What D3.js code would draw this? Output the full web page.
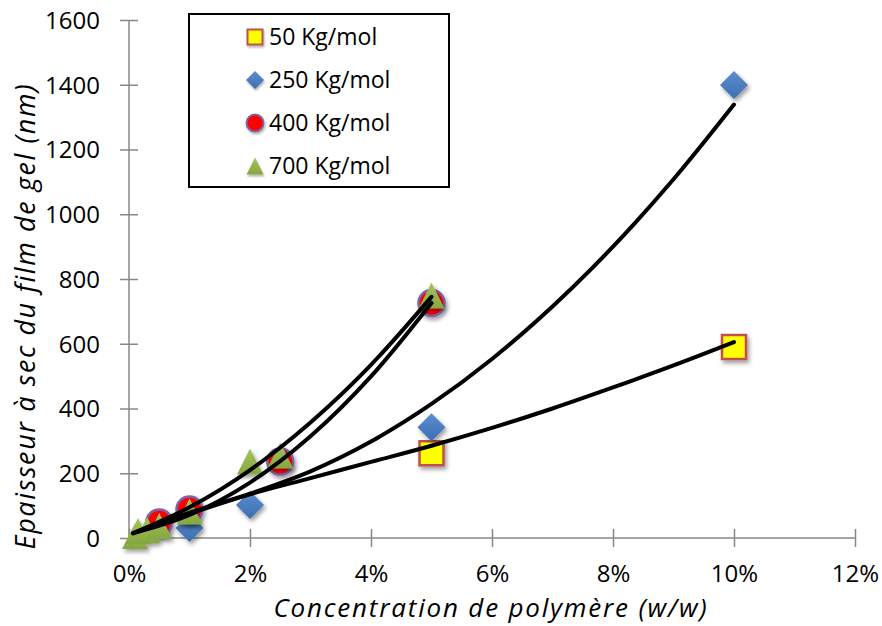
<!DOCTYPE html>
<html>
<head>
<meta charset="utf-8">
<script src="https://cdn.jsdelivr.net/npm/d3@7"></script>
<style>
  body { margin: 0; background: #fff; }
  svg { display: block; }
  text { font-family: "Open Sans", sans-serif; fill: #000; }
</style>
</head>
<body>
<svg id="chart" width="882" height="626"></svg>
<script>
// ---- Data: dry thickness of the gel film (nm) vs polymer concentration (% w/w)
const seriesNames = ["50 Kg/mol", "250 Kg/mol", "400 Kg/mol", "700 Kg/mol"];

const conc50 = [5, 10];
const thick50 = [262, 590];

const conc250 = [1, 2, 5, 10];
const thick250 = [31, 102, 342, 1399];

const conc400 = [0.5, 1, 2.5, 5];
const thick400 = [48, 88, 236, 726];

const conc700 = [0.1, 0.15, 0.3, 0.5, 1, 2, 2.5, 5];
const thick700 = [6, 22, 25, 37, 82, 236, 255, 749];

// Trend curves (polynomial trendlines), sampled along concentration
const trend50X = [0.07, 1, 2, 3, 4, 5, 6, 7, 8, 9, 10];
const trend50Y = [15, 75, 135, 185, 235, 285, 340, 400, 465, 533, 605];
const trend250X = [0.07, 1, 2, 3, 4, 5, 6, 7, 8, 9, 10];
const trend250Y = [15, 78, 137, 206, 298, 414, 553, 715, 900, 1108, 1339];
const trend400X = [0.07, 1, 2, 3, 4, 5];
const trend400Y = [15, 71, 171, 314, 499, 726];
const trend700X = [0.07, 1, 2, 3, 4, 5];
const trend700Y = [15, 95, 210, 357, 535, 745];

const xTickValues = [0, 2, 4, 6, 8, 10, 12];
const xTickLabels = ["0%", "2%", "4%", "6%", "8%", "10%", "12%"];
const yTickValues = [0, 200, 400, 600, 800, 1000, 1200, 1400, 1600];

const xTitle = "Concentration de polymère (w/w)";
const yTitle = "Epaisseur à sec du film de gel  (nm)";

// ---- Layout
const svg = d3.select("#chart");
const x = d3.scaleLinear().domain([0, 12]).range([129, 855]);
const y = d3.scaleLinear().domain([0, 1600]).range([538, 20]);
const axisColor = "#878787";

// ---- Defs: shadow and marker fills
const defs = svg.append("defs");
const shadow = defs.append("filter").attr("id", "shadow")
  .attr("x", "-50%").attr("y", "-50%").attr("width", "200%").attr("height", "200%");
shadow.append("feDropShadow").attr("dx", 2).attr("dy", 3).attr("stdDeviation", 2)
  .attr("flood-color", "#000").attr("flood-opacity", 0.38);
const shadowSmall = defs.append("filter").attr("id", "shadowSmall")
  .attr("x", "-50%").attr("y", "-50%").attr("width", "200%").attr("height", "200%");
shadowSmall.append("feDropShadow").attr("dx", 1).attr("dy", 2).attr("stdDeviation", 1.2)
  .attr("flood-color", "#000").attr("flood-opacity", 0.3);

function grad(id, top, bottom) {
  const g = defs.append("linearGradient").attr("id", id)
    .attr("x1", 0).attr("y1", 0).attr("x2", 0).attr("y2", 1);
  g.append("stop").attr("offset", "0%").attr("stop-color", top);
  g.append("stop").attr("offset", "100%").attr("stop-color", bottom);
}
grad("gBlue", "#5a8fd2", "#3d6db0");
grad("gGreen", "#a3c55e", "#86a63f");

// ---- Marker shapes (centred on 0,0)
const shapes = {
  square: s => `M${-s/2},${-s/2}H${s/2}V${s/2}H${-s/2}Z`,
  diamond: s => `M0,${-s/2}L${s/2},0L0,${s/2}L${-s/2},0Z`,
  triangle: s => `M0,${-s/2}L${s/2},${s/2}H${-s/2}Z`,
  circle: s => d3.arc()({innerRadius: 0, outerRadius: s/2, startAngle: 0, endAngle: 2 * Math.PI})
};

const styles = [
  {shape: "square",   fill: "#ffff00",      stroke: "#c0504d", sw: 2.5, size: 24},
  {shape: "diamond",  fill: "url(#gBlue)",  stroke: "none",    sw: 0,   size: 28},
  {shape: "circle",   fill: "#ff0000",      stroke: "#7f62a8", sw: 2.5, size: 26},
  {shape: "triangle", fill: "url(#gGreen)", stroke: "none",    sw: 0,   size: 26}
];

const series = [
  {xs: conc50, ys: thick50, tx: trend50X, ty: trend50Y},
  {xs: conc250, ys: thick250, tx: trend250X, ty: trend250Y},
  {xs: conc400, ys: thick400, tx: trend400X, ty: trend400Y},
  {xs: conc700, ys: thick700, tx: trend700X, ty: trend700Y}
];

// ---- Axes
const yAxis = svg.append("g").attr("transform", `translate(${x(0)},0)`)
  .call(d3.axisLeft(y).tickValues(yTickValues).tickSize(0).tickFormat(d3.format("d")));
yAxis.select(".domain").remove();
yAxis.append("line").attr("x1", 0).attr("x2", 0).attr("y1", y(0)).attr("y2", y(1600))
  .attr("stroke", axisColor).attr("stroke-width", 1.5);
yAxis.selectAll(".tick line").remove();
yAxis.selectAll(".tick").append("line")
  .attr("x1", -9).attr("x2", 9).attr("stroke", axisColor).attr("stroke-width", 1.5);
yAxis.selectAll(".tick text").attr("x", -29).attr("dy", "0.35em")
  .style("font-size", "24px").style("font-family", "'Open Sans', sans-serif").attr("fill", "#000");

const xAxis = svg.append("g").attr("transform", `translate(0,${y(0)})`)
  .call(d3.axisBottom(x).tickValues(xTickValues).tickSize(0)
    .tickFormat((d, i) => xTickLabels[i]));
xAxis.select(".domain").remove();
xAxis.append("line").attr("x1", x(0)).attr("x2", x(12)).attr("y1", 0).attr("y2", 0)
  .attr("stroke", axisColor).attr("stroke-width", 1.5);
xAxis.selectAll(".tick line").remove();
xAxis.selectAll(".tick").append("line")
  .attr("y1", -9).attr("y2", 9).attr("stroke", axisColor).attr("stroke-width", 1.5);
xAxis.selectAll(".tick text").attr("y", 36).attr("dy", "0.35em")
  .style("font-size", "24px").style("font-family", "'Open Sans', sans-serif").attr("fill", "#000");

// ---- Axis titles
svg.append("text").attr("x", 491).attr("y", 617).attr("text-anchor", "middle")
  .style("font-size", "26px").style("font-style", "italic").style("letter-spacing", "1.8px")
  .text(xTitle);
svg.append("text").attr("transform", "translate(35,316) rotate(-90)").attr("text-anchor", "middle")
  .style("font-size", "27px").style("font-style", "italic").style("letter-spacing", "1.6px")
  .text(yTitle);

// ---- Markers
const markerLayer = svg.append("g");
series.forEach((s, i) => {
  const st = styles[i];
  markerLayer.append("g").attr("filter", "url(#shadow)")
    .selectAll("path").data(s.xs.map((v, j) => [v, s.ys[j]])).join("path")
    .attr("transform", d => `translate(${x(d[0])},${y(d[1])})`)
    .attr("d", shapes[st.shape](st.size))
    .attr("fill", st.fill).attr("stroke", st.stroke).attr("stroke-width", st.sw);
});

// ---- Trendlines
const line = d3.line().x(d => x(d[0])).y(d => y(d[1])).curve(d3.curveMonotoneX);
series.forEach(s => {
  svg.append("path").datum(s.tx.map((v, j) => [v, s.ty[j]]))
    .attr("d", line).attr("fill", "none").attr("stroke", "#000")
    .attr("stroke-width", 4).attr("stroke-linecap", "round");
});

// ---- Legend
const legend = svg.append("g");
legend.append("rect").attr("x", 189).attr("y", 14).attr("width", 260).attr("height", 173)
  .attr("fill", "#fff").attr("stroke", "#000").attr("stroke-width", 2);
const legendRows = [37, 80, 123, 166];
seriesNames.forEach((name, i) => {
  const st = styles[i];
  legend.append("path").attr("filter", "url(#shadowSmall)")
    .attr("transform", `translate(255,${legendRows[i]})`)
    .attr("d", shapes[st.shape](Math.round(st.size * 0.64)))
    .attr("fill", st.fill).attr("stroke", st.stroke).attr("stroke-width", st.sw * 0.8);
  legend.append("text").attr("x", 269).attr("y", legendRows[i]).attr("dy", "0.35em")
    .style("font-size", "23px").text(name);
});
</script>
</body>
</html>
